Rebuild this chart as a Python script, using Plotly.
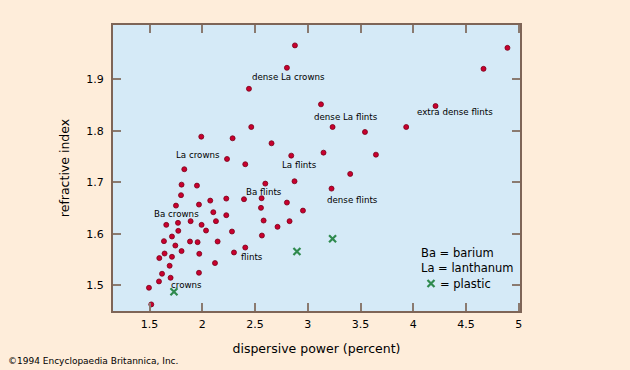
import plotly.graph_objects as go

# ---------------- data ----------------
glass_dispersion = [
    2.878, 2.802, 2.442, 2.464, 1.990, 2.287, 2.656, 2.843, 2.234, 4.893,
    4.666, 3.125, 4.211, 3.235, 3.542, 3.933, 3.149, 3.646, 2.407, 1.829,
    1.803, 1.949, 2.597, 2.874, 1.798, 2.075, 2.227, 2.395, 2.562, 1.750,
    1.968, 2.556, 2.802, 2.954, 2.104, 2.227, 1.658, 1.769, 1.889, 1.993,
    2.129, 2.581, 2.827, 2.713, 1.772, 2.035, 2.281, 1.712, 2.565, 1.636,
    1.883, 1.955, 2.145, 1.744, 1.803, 1.642, 1.971, 2.300, 2.407, 1.592,
    1.712, 2.120, 1.690, 1.618, 1.699, 1.968, 1.589, 1.494, 1.516, 3.402,
    3.225,
]
glass_index = [
    1.966, 1.9225, 1.8818, 1.8076, 1.7888, 1.7857, 1.776, 1.752, 1.7455, 1.9612,
    1.9205, 1.8516, 1.8483, 1.8076, 1.7979, 1.8076, 1.7578, 1.7539, 1.7353, 1.7256,
    1.6957, 1.6938, 1.6977, 1.7023, 1.6752, 1.6647, 1.6686, 1.6674, 1.6694, 1.655,
    1.657, 1.6506, 1.6609, 1.6453, 1.6422, 1.6364, 1.6176, 1.6215, 1.6248, 1.6176,
    1.6248, 1.626, 1.6248, 1.6138, 1.606, 1.6066, 1.6047, 1.595, 1.5969, 1.586,
    1.5853, 1.5841, 1.5853, 1.5775, 1.5667, 1.562, 1.5614, 1.564, 1.5736, 1.5531,
    1.5556, 1.5434, 1.5382, 1.5227, 1.5149, 1.5246, 1.5078, 1.4955, 1.4632, 1.7165,
    1.688,
]
plastic_dispersion = [1.731, 2.897, 3.235]
plastic_index = [1.4878, 1.5659, 1.5905]

x_tick_values = [1.5, 2, 2.5, 3, 3.5, 4, 4.5, 5]
x_tick_labels = ["1.5", "2", "2.5", "3", "3.5", "4", "4.5", "5"]
y_tick_values = [1.5, 1.6, 1.7, 1.8, 1.9]
y_tick_labels = ["1.5", "1.6", "1.7", "1.8", "1.9"]

group_labels = ["dense La crowns", "extra dense flints", "dense La flints", "La crowns",
                "La flints", "Ba flints", "Ba crowns", "flints", "crowns", "dense flints"]
group_label_x = [2.455, 4.019, 3.039, 1.727, 2.732, 2.391, 1.523, 2.350, 1.684, 3.165]
group_label_y = [1.9045, 1.8372, 1.8275, 1.7533, 1.7345, 1.6822, 1.6395, 1.5562, 1.5014, 1.6667]

legend_lines = ["Ba = barium", "La = lanthanum", "= plastic"]

# ---------------- style ----------------
FONT = "DejaVu Sans"
PEACH = "#FEEDDA"
BLUE = "#D5EAF7"
FRAME = "#7E6557"
RED = "#C8002E"
GREEN = "#2F8A4E"

fig = go.Figure()
fig.add_trace(go.Scatter(
    x=glass_dispersion, y=glass_index, mode="markers",
    marker=dict(size=5, color=RED, line=dict(width=0.8, color="#7a0018")),
    showlegend=False, hoverinfo="skip"))
fig.add_trace(go.Scatter(
    x=plastic_dispersion, y=plastic_index, mode="markers", name=" ",
    marker=dict(size=7, symbol="x-thin", color=GREEN, line=dict(width=2.2, color=GREEN)),
    showlegend=True, hoverinfo="skip"))

for t, lx, ly in zip(group_labels, group_label_x, group_label_y):
    fig.add_annotation(x=lx, y=ly, text=t, showarrow=False, xanchor="left", yanchor="middle",
                       font=dict(family=FONT, size=8.7, color="black"))

axis_common = dict(
    showgrid=False, zeroline=False, showline=True, linecolor=FRAME, linewidth=2,
    mirror="ticks", ticks="inside", ticklen=8, tickwidth=1.5, tickcolor="#8a7a70",
    tickfont=dict(family=FONT, size=11, color="black"),
)
fig.update_xaxes(range=[1.153, 5.012], tickvals=x_tick_values, ticktext=x_tick_labels,
                 ticklabelstandoff=2,
                 title=dict(text="dispersive power (percent)", standoff=14,
                            font=dict(family=FONT, size=12.5, color="black")),
                 **axis_common)
fig.update_yaxes(range=[1.4504, 2.0056], tickvals=y_tick_values, ticktext=y_tick_labels,
                 ticklabelstandoff=5,
                 title=dict(text="refractive index", standoff=14,
                            font=dict(family=FONT, size=12.5, color="black")),
                 **axis_common)

# legend key text
legend_text_x = [419, 419, 437.5]
legend_text_y = [252.5, 268, 283.5]
for t, px, py in zip(legend_lines, legend_text_x, legend_text_y):
    fig.add_annotation(xref="paper", yref="paper", x=(px - 113) / 407, y=(311 - py) / 286,
                       text=t, showarrow=False, xanchor="left", yanchor="middle",
                       font=dict(family=FONT, size=11.5, color="black"))
fig.add_annotation(xref="paper", yref="paper", x=(6 - 113) / 407, y=(311 - 361) / 286,
                   text="©1994 Encyclopaedia Britannica, Inc.", showarrow=False,
                   xanchor="left", yanchor="middle",
                   font=dict(family=FONT, size=9, color="black"))

fig.update_layout(
    width=630, height=370,
    margin=dict(l=113, r=110, t=25, b=59),
    paper_bgcolor=PEACH, plot_bgcolor=BLUE,
    showlegend=True,
    legend=dict(x=(411 - 113) / 407, y=(311 - 283.5) / 286, xanchor="left", yanchor="middle",
                bgcolor="rgba(0,0,0,0)", borderwidth=0, itemwidth=30,
                font=dict(family=FONT, size=11.5, color="black")),
)

fig.write_html("out.html", config={"displayModeBar": False},
               post_script="document.body.style.margin='0';")
